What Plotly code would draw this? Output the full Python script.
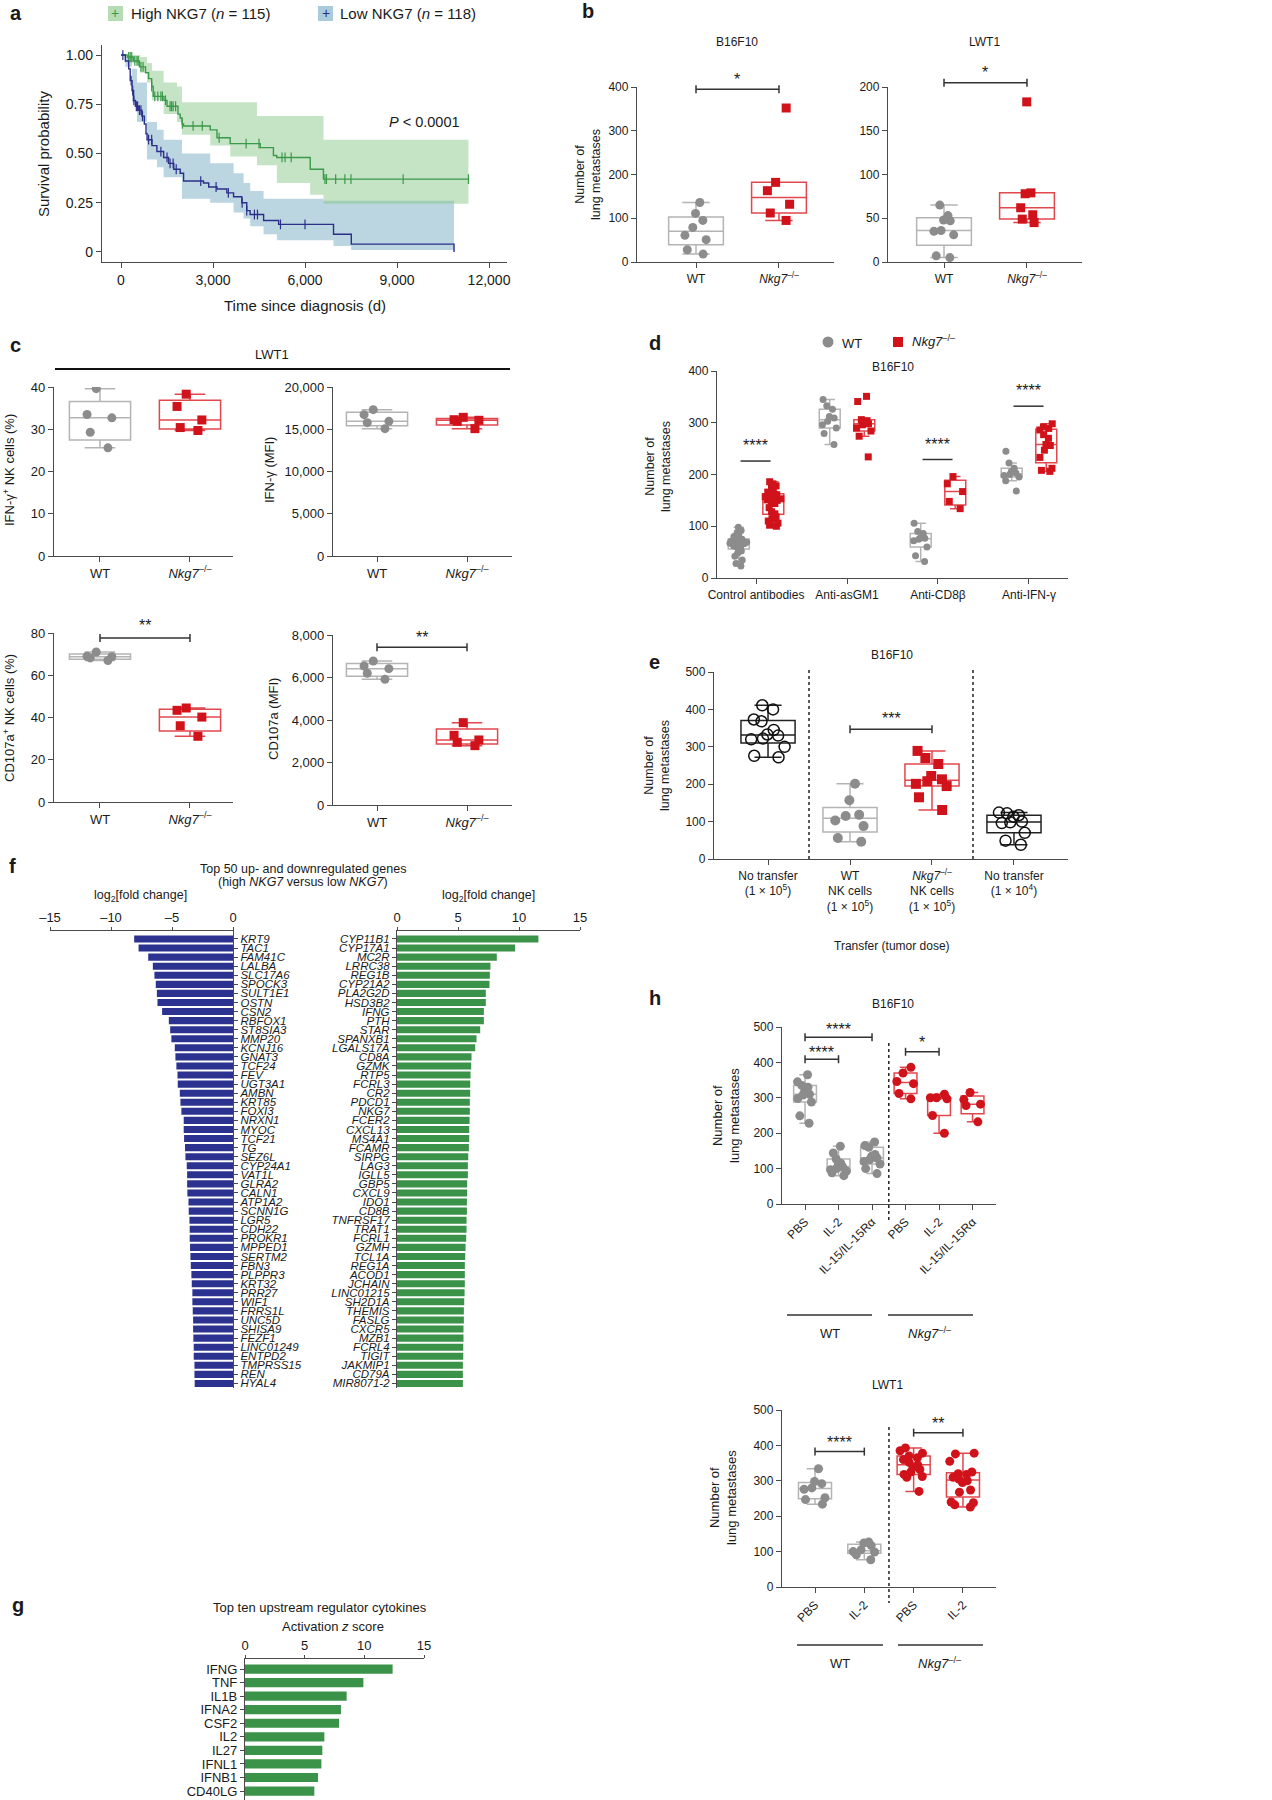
import plotly.graph_objects as go

# ======================= DATA =======================
# (a) Kaplan-Meier survival
km_high_time = [0, 200, 400, 600, 800, 900, 1000, 1050, 1400, 1500, 1857, 1930, 1990, 2040,
                2910, 3130, 3560, 4540, 4970, 5080, 6170, 6600, 11330]
km_high_surv = [1.0, 0.99, 0.97, 0.94, 0.91, 0.88, 0.84, 0.79, 0.77, 0.74, 0.70, 0.68, 0.65, 0.64,
                0.62, 0.58, 0.55, 0.53, 0.49, 0.48, 0.42, 0.37, 0.37]
km_high_censor = [250, 300, 350, 450, 520, 560, 650, 720, 1000, 1100, 1200, 1300, 1350, 1450, 1600,
                  1650, 1700, 1780, 2000, 2350, 2650, 3200, 4080, 4500, 5250, 5350, 5550, 6650, 6700,
                  7000, 7300, 7500, 9200, 11330]
km_high_ci_time = [0, 195, 630, 847, 1010, 1390, 1825, 1987, 2910, 3562, 4431, 5082, 6168, 6603, 11330]
km_high_ci_low = [1.0, 0.96, 0.91, 0.86, 0.77, 0.70, 0.66, 0.595, 0.54, 0.485, 0.44, 0.35, 0.29, 0.245, 0.245]
km_high_ci_up = [1.0, 1.0, 0.99, 0.96, 0.92, 0.86, 0.84, 0.76, 0.76, 0.76, 0.69, 0.69, 0.69, 0.57, 0.57]

km_low_time = [0, 140, 250, 300, 360, 410, 470, 580, 680, 760, 815, 850, 1010, 1170, 1390, 1550, 1720,
               1930, 2040, 2690, 2860, 3130, 3450, 3670, 3940, 4100, 4210, 4650, 5140, 6930, 7510,
               10860, 10860]
km_low_surv = [1.0, 0.97, 0.93, 0.87, 0.82, 0.77, 0.74, 0.72, 0.69, 0.65, 0.60, 0.57, 0.54, 0.51, 0.48,
               0.45, 0.42, 0.40, 0.36, 0.35, 0.33, 0.32, 0.30, 0.28, 0.25, 0.21, 0.19, 0.16, 0.14,
               0.09, 0.04, 0.04, 0.0]
km_low_censor = [60, 330, 380, 420, 500, 540, 600, 650, 700, 900, 1000, 1300, 1500, 1600, 1700, 1800,
                 2600, 3100, 3500, 3950, 4100, 4350, 4450, 5200, 6000]
km_low_ci_time = [0, 141, 358, 521, 847, 1173, 1390, 1987, 2910, 3671, 3997, 4214, 4648, 5082, 6603,
                  6929, 7504, 10860]
km_low_ci_up = [1.0, 0.99, 0.93, 0.86, 0.66, 0.62, 0.57, 0.50, 0.45, 0.40, 0.35, 0.31, 0.27, 0.27,
                0.26, 0.26, 0.26, 0.26]
km_low_ci_low = [1.0, 0.94, 0.76, 0.66, 0.47, 0.43, 0.38, 0.27, 0.25, 0.20, 0.17, 0.13, 0.09, 0.06,
                 0.06, 0.03, 0.01, 0.01]

# (b) lung metastases
geno_labels = ["WT", "<i>Nkg7</i><sup>–/–</sup>"]
b_b16_wt = [136, 111, 95, 79, 61, 51, 28, 18]
b_b16_ko = [352, 182, 163, 132, 112, 95]
b_lwt_wt = [65, 53, 48, 47, 36, 35, 31, 7, 5]
b_lwt_ko = [183, 79, 78, 62, 54, 49, 45]

# (c) LWT1 NK-cell readouts
c_ifn_pct_wt = [39.6, 33.5, 32.7, 29.3, 25.6]
c_ifn_pct_ko = [38.3, 35.4, 32.2, 30.4, 29.7]
c_ifn_mfi_wt = [17320, 16730, 15940, 15780, 15070]
c_ifn_mfi_ko = [16410, 16130, 16060, 15940, 15070]
c_cd107_pct_wt = [71.0, 68.8, 68.2, 69.0, 67.0]
c_cd107_pct_ko = [44.5, 43.4, 40.2, 36.1, 31.1]
c_cd107_mfi_wt = [6778, 6543, 6417, 6198, 5915]
c_cd107_mfi_ko = [3875, 3280, 3060, 2950, 2793]

# (d) depletion
d_groups = ["Control antibodies", "Anti-asGM1", "Anti-CD8β", "Anti-IFN-γ"]
d_wt = [
    [23, 28, 35, 42, 48, 52, 55, 57, 60, 62, 63, 65, 66, 67, 68, 69, 70, 71, 72, 74, 75, 76, 78, 80, 84, 88, 92, 98],
    [345, 333, 326, 312, 309, 303, 296, 290, 279, 258],
    [106, 90, 86, 78, 77, 75, 72, 60, 43, 32],
    [245, 222, 212, 206, 203, 200, 198, 195, 188, 168],
]
d_ko = [
    [100, 102, 106, 110, 114, 118, 122, 124, 128, 136, 144, 148, 150, 151, 152, 153, 155, 157, 158, 160,
     161, 162, 164, 166, 170, 174, 178, 182, 186],
    [351, 341, 306, 304, 302, 298, 296, 290, 284, 274, 234],
    [196, 182, 167, 148, 134],
    [298, 292, 289, 286, 277, 270, 258, 256, 247, 233, 212, 208, 206],
]

# (e) adoptive transfer
e_labels = ["No transfer<br>(1 × 10<sup>5</sup>)", "WT<br>NK cells<br>(1 × 10<sup>5</sup>)",
            "<i>Nkg7</i><sup>–/–</sup><br>NK cells<br>(1 × 10<sup>5</sup>)", "No transfer<br>(1 × 10<sup>4</sup>)"]
e_no_transfer_1e5 = [411, 400, 373, 368, 345, 333, 330, 322, 320, 300, 276, 272]
e_wt_nk = [201, 157, 118, 115, 103, 88, 56, 46]
e_ko_nk = [289, 270, 254, 222, 213, 208, 201, 195, 165, 131]
e_no_transfer_1e4 = [124, 122, 117, 113, 100, 98, 96, 70, 49, 38]

# (f) top 50 down/up genes
f_down_genes = ["KRT9", "TAC1", "FAM41C", "LALBA", "SLC17A6", "SPOCK3", "SULT1E1", "OSTN", "CSN2", "RBFOX1",
                "ST8SIA3", "MMP20", "KCNJ16", "GNAT3", "TCF24", "FEV", "UGT3A1", "AMBN", "KRT85", "FOXI3",
                "NRXN1", "MYOC", "TCF21", "TG", "SEZ6L", "CYP24A1", "VAT1L", "GLRA2", "CALN1", "ATP1A2",
                "SCNN1G", "LGR5", "CDH22", "PROKR1", "MPPED1", "SERTM2", "FBN3", "PLPPR3", "KRT32", "PRR27",
                "WIF1", "FRRS1L", "UNC5D", "SHISA9", "FEZF1", "LINC01249", "ENTPD2", "TMPRSS15", "REN", "HYAL4"]
f_down_lfc = [-8.10, -7.74, -6.95, -6.57, -6.44, -6.33, -6.24, -6.19, -5.81, -5.26,
              -5.15, -5.05, -4.77, -4.72, -4.64, -4.55, -4.53, -4.36, -4.31, -4.23,
              -4.04, -4.04, -4.01, -3.93, -3.90, -3.79, -3.76, -3.76, -3.74, -3.65,
              -3.63, -3.57, -3.55, -3.55, -3.52, -3.49, -3.46, -3.41, -3.38, -3.33,
              -3.33, -3.30, -3.27, -3.27, -3.25, -3.22, -3.22, -3.16, -3.16, -3.14]
f_up_genes = ["CYP11B1", "CYP17A1", "MC2R", "LRRC38", "REG1B", "CYP21A2", "PLA2G2D", "HSD3B2", "IFNG", "PTH",
              "STAR", "SPANXB1", "LGALS17A", "CD8A", "GZMK", "RTP5", "FCRL3", "CR2", "PDCD1", "NKG7",
              "FCER2", "CXCL13", "MS4A1", "FCAMR", "SIRPG", "LAG3", "IGLL5", "GBP5", "CXCL9", "IDO1",
              "CD8B", "TNFRSF17", "TRAT1", "FCRL1", "GZMH", "TCL1A", "REG1A", "ACOD1", "JCHAIN", "LINC01215",
              "SH2D1A", "THEMIS", "FASLG", "CXCR5", "MZB1", "FCRL4", "TIGIT", "JAKMIP1", "CD79A", "MIR8071-2"]
f_up_lfc = [11.59, 9.68, 8.18, 7.66, 7.61, 7.58, 7.28, 7.28, 7.12, 7.12,
            6.82, 6.52, 6.41, 6.11, 6.08, 6.03, 6.00, 6.00, 5.97, 5.97,
            5.95, 5.92, 5.92, 5.89, 5.84, 5.81, 5.81, 5.75, 5.75, 5.73,
            5.73, 5.70, 5.70, 5.67, 5.62, 5.59, 5.56, 5.56, 5.56, 5.54,
            5.51, 5.48, 5.48, 5.45, 5.45, 5.43, 5.43, 5.40, 5.40, 5.40]

# (g) upstream regulators
g_cytokines = ["IFNG", "TNF", "IL1B", "IFNA2", "CSF2", "IL2", "IL27", "IFNL1", "IFNB1", "CD40LG"]
g_zscore = [12.37, 9.92, 8.52, 8.04, 7.88, 6.65, 6.48, 6.40, 6.12, 5.81]

# (h) cytokine treatment
h_b16_labels = ["PBS", "IL-2", "IL-15/IL-15Rα", "PBS", "IL-2", "IL-15/IL-15Rα"]
h_b16_wt_pbs = [365, 345, 335, 330, 318, 310, 308, 298, 288, 249, 228]
h_b16_wt_il2 = [163, 144, 127, 115, 110, 105, 100, 97, 93, 88, 80]
h_b16_wt_il15 = [175, 165, 160, 140, 135, 130, 125, 120, 113, 100, 86]
h_b16_ko_pbs = [386, 370, 346, 340, 312, 297]
h_b16_ko_il2 = [310, 300, 300, 297, 250, 200]
h_b16_ko_il15 = [315, 295, 282, 278, 232]
h_lwt_labels = ["PBS", "IL-2", "PBS", "IL-2"]
h_lwt_wt_pbs = [334, 298, 292, 280, 276, 252, 247, 234]
h_lwt_wt_il2 = [127, 124, 117, 105, 100, 99, 91, 77]
h_lwt_ko_pbs = [393, 385, 378, 370, 365, 360, 352, 345, 338, 332, 325, 318, 312, 310, 270]
h_lwt_ko_il2 = [378, 376, 355, 325, 320, 318, 310, 305, 300, 295, 274, 268, 240, 238, 232, 226]

# ======================= STYLE / HELPERS =======================
W, H = 1272, 1800
FONT = "Liberation Sans, Arial, Helvetica, sans-serif"
NARROW = FONT
TXT = "#1a1a1a"
AXC = "#4a4a4a"
GREY_PT, GREY_BOX = "#8c8c8c", "#b4b4b4"
RED_PT, RED_BOX = "#d0121b", "#e2474d"
GREEN, NAVY = "#3a9a48", "#2b2f8a"
BAR_BLUE, BAR_GREEN = "#2c3290", "#3b9249"

fig = go.Figure()
axes, lay, annotations, shapes = {}, {}, [], []


def fx(p):
    return p / W


def fy(p):
    return 1 - p / H


def make_axes(name, x0, x1, y0, y1, xr, yr, font, size, xkw=None, ykw=None):
    i = len(axes) + 1
    sx = "" if i == 1 else str(i)
    base = dict(showline=True, linecolor=AXC, linewidth=1.3, ticks="outside", ticklen=5, tickwidth=1.3,
                tickcolor=AXC, showgrid=False, zeroline=False, automargin=False, fixedrange=True,
                tickfont=dict(family=font, size=size, color=TXT))
    xd = dict(base)
    xd.update(domain=[fx(x0), fx(x1)], anchor="y" + sx, range=xr, type="linear", tickangle=0)
    if xkw:
        xd.update(xkw)
    yd = dict(base)
    yd.update(domain=[fy(y1), fy(y0)], anchor="x" + sx, range=yr, type="linear")
    if ykw:
        yd.update(ykw)
    lay["xaxis" + sx] = xd
    lay["yaxis" + sx] = yd
    axes[name] = dict(xa="x" + sx, ya="y" + sx, x0=x0, x1=x1, y0=y0, y1=y1, xr=xr, yr=yr)


def px_of(name, xv, yv):
    a = axes[name]
    px = a["x0"] + (xv - a["xr"][0]) / (a["xr"][1] - a["xr"][0]) * (a["x1"] - a["x0"])
    py = a["y1"] - (yv - a["yr"][0]) / (a["yr"][1] - a["yr"][0]) * (a["y1"] - a["y0"])
    return px, py


def line_px(x0, y0, x1, y1, color="#333333", width=1.5, dash=None):
    shapes.append(dict(type="line", xref="paper", yref="paper", x0=fx(x0), y0=fy(y0), x1=fx(x1), y1=fy(y1),
                       line=dict(color=color, width=width, dash=dash)))


def text_px(text, x, y, size=13, font=FONT, xanchor="center", yanchor="middle", angle=0, color=TXT):
    annotations.append(dict(text=text, x=fx(x), y=fy(y), xref="paper", yref="paper", showarrow=False,
                            xanchor=xanchor, yanchor=yanchor, textangle=angle,
                            font=dict(family=font, size=size, color=color)))


def bracket(name, xa, xb, yv, stars, ystar, caps=True):
    p0x, p0y = px_of(name, xa, yv)
    p1x, _ = px_of(name, xb, yv)
    line_px(p0x, p0y, p1x, p0y, "#333333", 1.5)
    if caps:
        line_px(p0x, p0y - 4, p0x, p0y + 4, "#333333", 1.5)
        line_px(p1x, p0y - 4, p1x, p0y + 4, "#333333", 1.5)
    _, sy = px_of(name, xa, ystar)
    text_px(stars, (p0x + p1x) / 2, sy + 4, size=16)


STY = {
    "grey": dict(sym="circle", mc=GREY_PT, lc=GREY_BOX, mlc=GREY_PT, mlw=0),
    "red": dict(sym="square", mc=RED_PT, lc=RED_BOX, mlc=RED_PT, mlw=0),
    "redc": dict(sym="circle", mc=RED_PT, lc=RED_BOX, mlc=RED_PT, mlw=0),
    "open": dict(sym="circle-open", mc="#111111", lc="#222222", mlc="#111111", mlw=1.5),
}


def box(name, pos, vals, style, width, size, jitter):
    a = axes[name]
    s = STY[style]
    fig.add_trace(go.Box(
        y=vals, x0=pos, xaxis=a["xa"], yaxis=a["ya"], width=width, boxpoints="all", jitter=jitter,
        pointpos=0, fillcolor="rgba(255,255,255,0)", line=dict(color=s["lc"], width=1.5),
        marker=dict(symbol=s["sym"], size=size, color=s["mc"], opacity=1,
                    line=dict(color=s["mlc"], width=s["mlw"])),
        whiskerwidth=0.5, quartilemethod="exclusive", showlegend=False, hoverinfo="y"))


def step_at(ts, ss, t):
    v = ss[0]
    for ti, si in zip(ts, ss):
        if ti <= t:
            v = si
    return v


# ======================= PANEL a =======================
make_axes("a", 102, 507, 45, 262, [-620, 12587], [-0.051, 1.051], FONT, 14,
          xkw=dict(tickvals=[0, 3000, 6000, 9000, 12000], ticktext=["0", "3,000", "6,000", "9,000", "12,000"]),
          ykw=dict(tickvals=[0, 0.25, 0.5, 0.75, 1.0], ticktext=["0", "0.25", "0.50", "0.75", "1.00"]))
A = axes["a"]
for t_ci, lo, up, fc in [(km_low_ci_time, km_low_ci_low, km_low_ci_up, "rgba(120,172,196,0.50)"),
                         (km_high_ci_time, km_high_ci_low, km_high_ci_up, "rgba(140,200,140,0.50)")]:
    fig.add_trace(go.Scatter(x=t_ci, y=lo, mode="lines", line=dict(width=0, shape="hv"), xaxis=A["xa"],
                             yaxis=A["ya"], showlegend=False, hoverinfo="skip"))
    fig.add_trace(go.Scatter(x=t_ci, y=up, mode="lines", line=dict(width=0, shape="hv"), fill="tonexty",
                             fillcolor=fc, xaxis=A["xa"], yaxis=A["ya"], showlegend=False, hoverinfo="skip"))
for tt, ss, cens, col in [(km_high_time, km_high_surv, km_high_censor, GREEN),
                          (km_low_time, km_low_surv, km_low_censor, NAVY)]:
    fig.add_trace(go.Scatter(x=tt, y=ss, mode="lines", line=dict(color=col, width=1.4, shape="hv"),
                             xaxis=A["xa"], yaxis=A["ya"], showlegend=False))
    fig.add_trace(go.Scatter(x=cens, y=[step_at(tt, ss, c) for c in cens], mode="markers",
                             marker=dict(symbol="line-ns", size=7, line=dict(color=col, width=1.2)),
                             xaxis=A["xa"], yaxis=A["ya"], showlegend=False))
shapes.append(dict(type="rect", xref="paper", yref="paper", x0=fx(108), x1=fx(123), y0=fy(21), y1=fy(6),
                   fillcolor="#b6dcb6", line=dict(width=0)))
shapes.append(dict(type="rect", xref="paper", yref="paper", x0=fx(318), x1=fx(333), y0=fy(21), y1=fy(6),
                   fillcolor="#aacbda", line=dict(width=0)))
text_px("+", 115.5, 13.5, 14, color=GREEN)
text_px("+", 325.5, 13.5, 14, color=NAVY)
text_px("High NKG7 (<i>n</i> = 115)", 129, 14, 15, xanchor="left")
text_px("Low NKG7 (<i>n</i> = 118)", 338, 14, 15, xanchor="left")
text_px("<i>P</i> < 0.0001", 424, 122, 14.5)
text_px("Survival probability", 43, 154, 15, angle=-90)
text_px("Time since diagnosis (d)", 305, 305, 15)

# ======================= PANEL b =======================
make_axes("b1", 637, 834, 87, 262, [-0.711, 1.663], [0, 400], NARROW, 12,
          xkw=dict(tickvals=[0, 1], ticktext=geno_labels), ykw=dict(tickvals=[0, 100, 200, 300, 400]))
make_axes("b2", 888, 1082, 87, 262, [-0.675, 1.663], [0, 200], NARROW, 12,
          xkw=dict(tickvals=[0, 1], ticktext=geno_labels), ykw=dict(tickvals=[0, 50, 100, 150, 200]))
box("b1", 0, b_b16_wt, "grey", 0.66, 9, 0.5)
box("b1", 1, b_b16_ko, "red", 0.66, 9, 0.5)
box("b2", 0, b_lwt_wt, "grey", 0.66, 9, 0.5)
box("b2", 1, b_lwt_ko, "red", 0.66, 9, 0.5)
bracket("b1", 0, 1, 395, "*", 427)
bracket("b2", 0, 1, 205, "*", 221)
text_px("B16F10", 737, 42, 12, NARROW)
text_px("LWT1", 984, 42, 12, NARROW)
text_px("Number of<br>lung metastases", 588, 175, 12.5, angle=-90)

# ======================= PANEL c =======================
make_axes("c1", 54, 233, 387, 556, [-0.511, 1.478], [0, 40], FONT, 13,
          xkw=dict(tickvals=[0, 1], ticktext=geno_labels), ykw=dict(tickvals=[0, 10, 20, 30, 40]))
make_axes("c2", 333, 512, 387, 556, [-0.489, 1.5], [0, 20000], FONT, 13,
          xkw=dict(tickvals=[0, 1], ticktext=geno_labels),
          ykw=dict(tickvals=[0, 5000, 10000, 15000, 20000], tickformat=","))
make_axes("c3", 54, 233, 633, 802, [-0.511, 1.478], [0, 80], FONT, 13,
          xkw=dict(tickvals=[0, 1], ticktext=geno_labels), ykw=dict(tickvals=[0, 20, 40, 60, 80]))
make_axes("c4", 333, 512, 635, 805, [-0.489, 1.5], [0, 8000], FONT, 13,
          xkw=dict(tickvals=[0, 1], ticktext=geno_labels),
          ykw=dict(tickvals=[0, 2000, 4000, 6000, 8000], tickformat=","))
for nm, wt, ko in [("c1", c_ifn_pct_wt, c_ifn_pct_ko), ("c2", c_ifn_mfi_wt, c_ifn_mfi_ko),
                   ("c3", c_cd107_pct_wt, c_cd107_pct_ko), ("c4", c_cd107_mfi_wt, c_cd107_mfi_ko)]:
    box(nm, 0, wt, "grey", 0.68, 9, 0.5)
    box(nm, 1, ko, "red", 0.68, 9, 0.5)
bracket("c3", 0, 1, 77.6, "**", 85.5)
bracket("c4", 0, 1, 7421, "**", 8080)
text_px("LWT1", 272, 355, 13)
line_px(55, 369, 510, 369, "#111111", 2)
text_px("IFN-γ<sup>+</sup> NK cells (%)", 9, 470, 13, angle=-90)
text_px("IFN-γ (MFI)", 270, 470, 13, angle=-90)
text_px("CD107a<sup>+</sup> NK cells (%)", 9, 718, 13, angle=-90)
text_px("CD107a (MFI)", 273, 719, 13, angle=-90)

# ======================= PANEL d =======================
make_axes("d", 717, 1068, 371, 578, [-0.429, 3.429], [0, 400], NARROW, 12,
          xkw=dict(tickvals=[0, 1, 2, 3], ticktext=d_groups), ykw=dict(tickvals=[0, 100, 200, 300, 400]))
for gi in range(len(d_groups)):
    box("d", gi - 0.19, d_wt[gi], "grey", 0.23, 7, 0.9)
    box("d", gi + 0.19, d_ko[gi], "red", 0.23, 7, 0.9)
bracket("d", -0.17, 0.16, 226, "****", 263, caps=False)
bracket("d", 2 - 0.17, 2 + 0.16, 229, "****", 266, caps=False)
bracket("d", 3 - 0.17, 3 + 0.16, 332, "****", 370, caps=False)
text_px("B16F10", 893, 367, 12, NARROW)
text_px("Number of<br>lung metastases", 658, 467, 12.5, angle=-90)
shapes.append(dict(type="circle", xref="paper", yref="paper", xsizemode="pixel", ysizemode="pixel",
                   xanchor=fx(828), yanchor=fy(342), x0=-5.5, x1=5.5, y0=-5.5, y1=5.5,
                   fillcolor=GREY_PT, line=dict(width=0)))
shapes.append(dict(type="rect", xref="paper", yref="paper", xsizemode="pixel", ysizemode="pixel",
                   xanchor=fx(898), yanchor=fy(342), x0=-5, x1=5, y0=-5, y1=5,
                   fillcolor=RED_PT, line=dict(width=0)))
text_px("WT", 840, 343, 13, NARROW, xanchor="left")
text_px("<i>Nkg7</i><sup>–/–</sup>", 910, 341, 13, NARROW, xanchor="left")

# ======================= PANEL e =======================
make_axes("e", 714, 1068, 672, 859, [-0.659, 3.659], [0, 500], NARROW, 12,
          xkw=dict(tickvals=[0, 1, 2, 3], ticktext=e_labels), ykw=dict(tickvals=[0, 100, 200, 300, 400, 500]))
box("e", 0, e_no_transfer_1e5, "open", 0.66, 11, 0.8)
box("e", 1, e_wt_nk, "grey", 0.66, 10, 0.8)
box("e", 2, e_ko_nk, "red", 0.66, 10, 0.8)
box("e", 3, e_no_transfer_1e4, "open", 0.66, 11, 0.8)
bracket("e", 1, 2, 347, "***", 387)
for xv in [0.5, 2.5]:
    px, _ = px_of("e", xv, 0)
    line_px(px, 670, px, 859, "#222222", 1.5, "dot")
text_px("B16F10", 892, 655, 12, NARROW)
text_px("Number of<br>lung metastases", 657, 766, 12.5, angle=-90)
text_px("Transfer (tumor dose)", 892, 946, 12, NARROW)

# ======================= PANEL h =======================
make_axes("h1", 782, 996, 1027, 1204, [-0.687, 5.70], [0, 500], NARROW, 12,
          xkw=dict(tickvals=list(range(6)), ticktext=h_b16_labels, tickangle=-45),
          ykw=dict(tickvals=[0, 100, 200, 300, 400, 500]))
box("h1", 0, h_b16_wt_pbs, "grey", 0.68, 9, 0.9)
box("h1", 1, h_b16_wt_il2, "grey", 0.68, 9, 0.9)
box("h1", 2, h_b16_wt_il15, "grey", 0.68, 9, 0.9)
box("h1", 3, h_b16_ko_pbs, "redc", 0.68, 9, 0.9)
box("h1", 4, h_b16_ko_il2, "redc", 0.68, 9, 0.9)
box("h1", 5, h_b16_ko_il15, "redc", 0.68, 9, 0.9)
bracket("h1", 0, 1, 409, "****", 440)
bracket("h1", 0, 2, 471, "****", 503)
bracket("h1", 3, 4, 430, "*", 468)
px, _ = px_of("h1", 2.5, 0)
line_px(px, 1043, px, 1220, "#222222", 1.5, "dot")
text_px("B16F10", 893, 1004, 12, NARROW)
text_px("Number of<br>lung metastases", 726, 1116, 13, angle=-90)
line_px(787, 1315, 872, 1315, "#333333", 1.5)
line_px(888, 1315, 973, 1315, "#333333", 1.5)
text_px("WT", 830, 1333, 13, NARROW)
text_px("<i>Nkg7</i><sup>–/–</sup>", 930, 1333, 13, NARROW)

make_axes("h2", 782, 996, 1410, 1587, [-0.669, 3.67], [0, 500], NARROW, 12,
          xkw=dict(tickvals=list(range(4)), ticktext=h_lwt_labels, tickangle=-45),
          ykw=dict(tickvals=[0, 100, 200, 300, 400, 500]))
box("h2", 0, h_lwt_wt_pbs, "grey", 0.67, 9, 0.9)
box("h2", 1, h_lwt_wt_il2, "grey", 0.67, 9, 0.9)
box("h2", 2, h_lwt_ko_pbs, "redc", 0.67, 9, 0.9)
box("h2", 3, h_lwt_ko_il2, "redc", 0.67, 9, 0.9)
bracket("h2", 0, 1, 382.5, "****", 420)
bracket("h2", 2, 3, 436, "**", 472)
px, _ = px_of("h2", 1.5, 0)
line_px(px, 1427, px, 1603, "#222222", 1.5, "dot")
text_px("LWT1", 887, 1385, 12, NARROW)
text_px("Number of<br>lung metastases", 723, 1498, 13, angle=-90)
line_px(797, 1645, 883, 1645, "#333333", 1.5)
line_px(898, 1645, 983, 1645, "#333333", 1.5)
text_px("WT", 840, 1663, 13, NARROW)
text_px("<i>Nkg7</i><sup>–/–</sup>", 940, 1663, 13, NARROW)

# ======================= PANEL f =======================
gene_font = dict(family=FONT, size=11.5, color=TXT, style="italic")
make_axes("f1", 50, 233, 931, 1388, [-15, 0], [49.5, -0.88], FONT, 13,
          xkw=dict(side="top", tickvals=[-15, -10, -5, 0], ticktext=["–15", "–10", "–5", "0"], ticklen=3),
          ykw=dict(side="right", type="category", categoryorder="array", categoryarray=f_down_genes,
                   tickmode="array", tickvals=f_down_genes, ticktext=f_down_genes,
                   tickfont=gene_font, ticklen=4))
make_axes("f2", 397, 580, 931, 1388, [0, 15], [49.5, -0.88], FONT, 13,
          xkw=dict(side="top", tickvals=[0, 5, 10, 15], ticklen=3),
          ykw=dict(side="left", type="category", categoryorder="array", categoryarray=f_up_genes,
                   tickmode="array", tickvals=f_up_genes, ticktext=f_up_genes,
                   tickfont=gene_font, ticklen=4))
fig.add_trace(go.Bar(x=f_down_lfc, y=f_down_genes, orientation="h", width=0.78, marker=dict(color=BAR_BLUE),
                     xaxis=axes["f1"]["xa"], yaxis=axes["f1"]["ya"], showlegend=False))
fig.add_trace(go.Bar(x=f_up_lfc, y=f_up_genes, orientation="h", width=0.78, marker=dict(color=BAR_GREEN),
                     xaxis=axes["f2"]["xa"], yaxis=axes["f2"]["ya"], showlegend=False))
text_px("Top 50 up- and downregulated genes", 303, 869, 12.5)
text_px("(high <i>NKG7</i> versus low <i>NKG7</i>)", 303, 882, 12.5)
text_px("log<sub>2</sub>[fold change]", 140, 896, 12.5)
text_px("log<sub>2</sub>[fold change]", 488, 896, 12.5)

# ======================= PANEL g =======================
make_axes("g", 245, 424, 1659, 1800, [0, 15], [9.66, -0.74], FONT, 13,
          xkw=dict(side="top", tickvals=[0, 5, 10, 15], ticklen=3),
          ykw=dict(type="category", categoryorder="array", categoryarray=g_cytokines,
                   tickmode="array", tickvals=g_cytokines, ticktext=g_cytokines,
                   tickfont=dict(family=FONT, size=13, color=TXT), ticklen=4))
fig.add_trace(go.Bar(x=g_zscore, y=g_cytokines, orientation="h", width=0.68, marker=dict(color=BAR_GREEN),
                     xaxis=axes["g"]["xa"], yaxis=axes["g"]["ya"], showlegend=False))
text_px("Top ten upstream regulator cytokines", 320, 1607, 13)
text_px("Activation <i>z</i> score", 333, 1626, 13)

# ======================= panel letters =======================
for letter, x, y in [("a", 8, 13), ("b", 580, 11), ("c", 8, 345), ("d", 647, 343), ("e", 647, 662),
                     ("f", 7, 866), ("g", 10, 1605), ("h", 647, 998)]:
    text_px("<b>%s</b>" % letter, x, y, 20, FONT, xanchor="left")

fig.update_layout(width=W, height=H, margin=dict(l=0, r=0, t=0, b=0), template="none",
                  paper_bgcolor="white", plot_bgcolor="white", showlegend=False, boxmode="overlay",
                  annotations=annotations, shapes=shapes, font=dict(family=FONT, color=TXT), **lay)
fig.write_html("out.html", config={"displayModeBar": False},
               post_script="document.body.style.margin='0px';")
